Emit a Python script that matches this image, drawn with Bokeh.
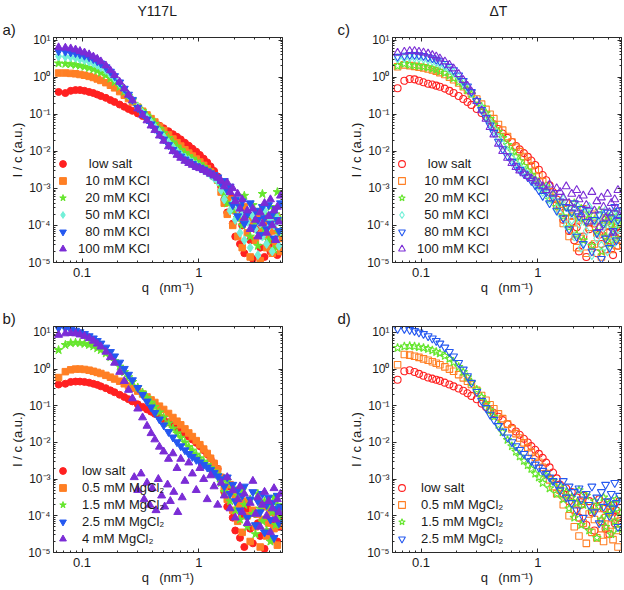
import numpy as np
from bokeh.plotting import figure
from bokeh.models import (Range1d, LogAxis, FixedTicker, CustomJSTickFormatter,
                          Legend, LegendItem, Title, ColumnDataSource)
from bokeh.layouts import gridplot
from bokeh.embed import file_html
from bokeh.resources import INLINE

FONT = "Liberation Sans"

# ---------------- data: q grid (nm^-1) and log10(I/c) ----------------
q = [0.063, 0.072, 0.08, 0.088, 0.096, 0.105, 0.115, 0.125, 0.135, 0.145, 0.16, 0.175, 0.19, 0.21, 0.23, 0.25, 0.27, 0.30,
     0.33, 0.36, 0.39, 0.42, 0.46, 0.50, 0.55, 0.60, 0.65, 0.70, 0.76, 0.82, 0.88, 0.95, 1.02, 1.10, 1.18, 1.26, 1.35, 1.45,
     1.55, 1.65, 1.75, 1.85, 1.95, 2.05, 2.15, 2.25, 2.35, 2.45, 2.6, 2.75, 2.9, 3.05, 3.2, 3.35, 3.5, 3.65, 3.8, 3.95,
     4.1, 4.25, 4.4, 4.55, 4.7, 4.85, 5.0]

# a) Y117L, KCl series
a_low_salt = [-0.40, -0.43, -0.37, -0.35, -0.35, -0.37, -0.40, -0.43, -0.47, -0.51, -0.56, -0.62, -0.67, -0.74, -0.80, -0.86, -0.91, -0.98,
              -1.05, -1.11, -1.17, -1.23, -1.31, -1.38, -1.46, -1.54, -1.61, -1.68, -1.77, -1.85, -1.93, -2.01, -2.10, -2.20, -2.30, -2.41, -2.53, -2.68,
              -2.95, -3.30, -3.65, -3.20, -3.95, -4.30, -3.60, -4.50, -4.00, -4.75, -3.80, -4.40, -4.90, -4.10, -3.70, -4.60, -4.25, -4.85, -3.90, -4.45, -4.70, -4.05, -4.55, -3.85, -4.80, -4.20, -4.60]
a_kcl_10 = [0.11, 0.11, 0.10, 0.09, 0.07, 0.05, 0.02, -0.01, -0.05, -0.09, -0.15, -0.22, -0.29, -0.39, -0.49, -0.58, -0.67, -0.81,
            -0.92, -1.02, -1.12, -1.21, -1.33, -1.44, -1.56, -1.67, -1.77, -1.86, -1.96, -2.05, -2.13, -2.21, -2.29, -2.38, -2.47, -2.56, -2.66, -2.78,
            -3.10, -3.40, -3.70, -3.30, -4.00, -3.60, -4.30, -3.80, -4.60, -3.50, -4.20, -4.85, -3.90, -4.40, -3.70, -4.95, -4.10, -3.85, -4.60, -4.25, -3.95, -4.75, -4.15, -4.50, -3.80, -4.35, -4.70]
a_kcl_20 = [0.37, 0.36, 0.35, 0.33, 0.31, 0.28, 0.25, 0.21, 0.17, 0.12, 0.05, -0.04, -0.13, -0.26, -0.39, -0.51, -0.62, -0.79,
            -0.92, -1.04, -1.15, -1.26, -1.39, -1.51, -1.64, -1.76, -1.87, -1.96, -2.05, -2.13, -2.20, -2.28, -2.35, -2.42, -2.50, -2.58, -2.67, -2.77,
            -2.95, -3.15, -3.40, -3.05, -3.60, -3.30, -3.80, -3.50, -4.00, -3.20, -3.70, -4.30, -3.45, -3.90, -4.55, -3.60, -3.15, -4.10, -3.75, -4.40, -3.50, -3.95, -4.65, -3.70, -3.10, -4.20, -3.85]
a_kcl_50 = [0.56, 0.55, 0.54, 0.52, 0.49, 0.46, 0.42, 0.38, 0.33, 0.27, 0.19, 0.08, -0.03, -0.18, -0.33, -0.48, -0.61, -0.81,
            -0.96, -1.10, -1.22, -1.34, -1.48, -1.61, -1.76, -1.89, -2.00, -2.09, -2.17, -2.24, -2.30, -2.37, -2.43, -2.50, -2.57, -2.64, -2.72, -2.81,
            -3.05, -3.30, -3.10, -3.60, -3.40, -3.85, -3.55, -4.20, -3.70, -4.40, -3.90, -4.60, -3.75, -4.10, -4.80, -3.95, -4.30, -3.60, -4.50, -4.05, -3.85, -4.70, -4.00, -4.35, -3.80, -4.55, -4.15]
a_kcl_80 = [0.70, 0.69, 0.67, 0.65, 0.62, 0.58, 0.54, 0.49, 0.43, 0.37, 0.27, 0.15, 0.03, -0.14, -0.31, -0.47, -0.61, -0.83,
            -0.99, -1.14, -1.27, -1.39, -1.54, -1.68, -1.83, -1.96, -2.06, -2.14, -2.22, -2.28, -2.34, -2.40, -2.44, -2.49, -2.54, -2.59, -2.64, -2.70,
            -2.85, -2.80, -3.05, -2.95, -3.45, -3.30, -3.75, -3.50, -3.35, -3.95, -3.70, -3.40, -4.05, -3.60, -3.85, -4.25, -3.50, -3.80, -4.10, -3.45, -3.95, -3.70, -4.35, -3.55, -3.85, -4.15, -3.40]
a_kcl_100 = [0.80, 0.79, 0.77, 0.74, 0.70, 0.66, 0.61, 0.55, 0.49, 0.42, 0.31, 0.18, 0.05, -0.13, -0.31, -0.48, -0.63, -0.85,
             -1.02, -1.17, -1.31, -1.43, -1.58, -1.72, -1.87, -2.00, -2.10, -2.18, -2.26, -2.32, -2.37, -2.43, -2.46, -2.51, -2.56, -2.61, -2.66, -2.72,
             -2.80, -2.95, -2.85, -3.10, -3.00, -3.35, -3.15, -3.55, -3.30, -3.80, -3.60, -4.10, -3.55, -3.85, -4.30, -3.65, -3.95, -3.40, -4.20, -3.75, -3.30, -4.00, -3.60, -4.40, -3.50, -3.90, -3.20]

# b) Y117L, MgCl2 series
b_low_salt = [-0.42, -0.40, -0.35, -0.34, -0.34, -0.35, -0.37, -0.40, -0.43, -0.47, -0.52, -0.58, -0.63, -0.70, -0.76, -0.82, -0.88, -0.96,
              -1.03, -1.10, -1.16, -1.22, -1.30, -1.37, -1.45, -1.53, -1.60, -1.67, -1.76, -1.84, -1.92, -2.01, -2.10, -2.21, -2.32, -2.44, -2.57, -2.72,
              -2.95, -3.35, -3.75, -3.20, -4.05, -4.40, -3.65, -4.60, -4.00, -4.85, -3.80, -4.35, -4.75, -3.95, -4.20, -4.55, -3.70, -4.90, -4.10, -4.45, -3.85, -4.65, -4.25, -3.90, -4.70, -4.30, -4.05]
b_mg_05 = [-0.23, -0.07, -0.02, 0.00, 0.00, -0.01, -0.03, -0.06, -0.09, -0.12, -0.17, -0.22, -0.27, -0.33, -0.40, -0.46, -0.52, -0.60,
           -0.68, -0.76, -0.84, -0.91, -1.01, -1.10, -1.21, -1.32, -1.42, -1.52, -1.63, -1.74, -1.84, -1.95, -2.06, -2.18, -2.30, -2.43, -2.57, -2.73,
           -2.95, -3.25, -3.55, -3.15, -3.85, -3.45, -4.15, -3.70, -4.45, -3.60, -4.00, -4.70, -3.85, -4.30, -3.95, -4.85, -4.10, -3.75, -4.55, -4.20, -3.90, -4.65, -4.35, -4.05, -4.80, -4.25, -3.95]
b_mg_15 = [0.52, 0.66, 0.71, 0.72, 0.71, 0.69, 0.66, 0.62, 0.57, 0.52, 0.43, 0.33, 0.22, 0.07, -0.08, -0.22, -0.35, -0.50,
           -0.64, -0.78, -0.91, -1.03, -1.18, -1.32, -1.48, -1.62, -1.75, -1.87, -2.00, -2.12, -2.22, -2.33, -2.43, -2.52, -2.61, -2.70, -2.79, -2.88,
           -3.10, -3.35, -3.05, -3.60, -3.25, -3.85, -3.45, -4.10, -3.30, -3.70, -4.30, -3.55, -3.95, -4.50, -3.40, -3.80, -4.15, -3.60, -4.40, -3.75, -4.70, -3.90, -3.50, -4.25, -3.70, -4.05, -3.85]
b_mg_25 = [1.12, 1.11, 1.08, 1.05, 1.01, 0.96, 0.90, 0.84, 0.77, 0.70, 0.59, 0.47, 0.35, 0.18, 0.01, -0.15, -0.30, -0.51,
           -0.70, -0.88, -1.04, -1.19, -1.37, -1.53, -1.71, -1.86, -1.99, -2.10, -2.21, -2.31, -2.39, -2.47, -2.54, -2.61, -2.68, -2.75, -2.83, -2.92,
           -3.00, -3.20, -2.95, -3.40, -3.15, -3.60, -3.30, -3.85, -3.45, -3.20, -4.05, -3.55, -3.35, -4.25, -3.60, -3.90, -3.40, -4.45, -3.70, -3.50, -4.10, -3.65, -4.60, -3.80, -3.45, -4.20, -3.75]
b_mg_4 = [0.93, 0.97, 0.98, 0.97, 0.94, 0.90, 0.84, 0.77, 0.69, 0.61, 0.47, 0.32, 0.17, -0.08, -0.33, -0.57, -0.80, -1.08,
          -1.32, -1.55, -1.75, -1.92, -2.12, -2.25, -2.45, -2.30, -2.70, -2.45, -3.05, -2.55, -2.85, -3.30, -2.70, -3.00, -3.55, -2.90, -3.20, -3.70,
          -3.10, -3.45, -2.95, -3.80, -3.30, -4.05, -3.55, -3.20, -3.90, -3.40, -4.20, -3.65, -3.05, -3.95, -3.50, -4.30, -3.70, -3.35, -4.00, -3.60, -4.45, -3.80, -3.25, -4.10, -3.55, -3.90, -3.40]
# additional scattered 4 mM points at intermediate q
b_mg_4_extra_q = [0.28, 0.30, 0.32, 0.34, 0.36, 0.38, 0.40, 0.43, 0.45, 0.48, 0.51, 0.54, 0.57, 0.61, 0.66, 0.72]
b_mg_4_extra = [-2.95, -3.30, -2.85, -3.55, -3.10, -3.70, -3.25, -3.85, -3.00, -3.45, -3.75, -3.15, -3.60, -3.35, -3.90, -3.50]

# c) deltaT, KCl series
c_low_salt = [-0.30, -0.10, -0.05, -0.06, -0.10, -0.14, -0.18, -0.20, -0.23, -0.26, -0.31, -0.37, -0.43, -0.51, -0.59, -0.67, -0.75, -0.86,
              -0.97, -1.07, -1.17, -1.27, -1.40, -1.52, -1.64, -1.75, -1.86, -1.95, -2.05, -2.15, -2.25, -2.37, -2.50, -2.64, -2.78, -2.92, -3.10, -3.30,
              -3.50, -3.85, -3.65, -4.15, -3.90, -4.40, -4.05, -4.70, -3.80, -4.30, -4.85, -4.10, -4.55, -3.95, -4.75, -4.25, -4.50, -3.85, -4.65, -4.20, -4.40, -3.95, -4.80, -4.30, -4.05, -4.55, -4.20]
c_kcl_10 = [0.28, 0.33, 0.31, 0.29, 0.27, 0.25, 0.22, 0.19, 0.16, 0.12, 0.07, 0.00, -0.07, -0.16, -0.26, -0.36, -0.45, -0.59,
            -0.73, -0.87, -1.00, -1.12, -1.28, -1.43, -1.60, -1.75, -1.89, -2.01, -2.14, -2.27, -2.39, -2.52, -2.66, -2.82, -2.95, -3.10, -3.25, -3.45,
            -3.60, -3.95, -3.40, -4.30, -3.75, -4.10, -4.60, -3.85, -4.35, -3.55, -4.75, -4.05, -3.70, -4.50, -4.20, -3.90, -4.85, -4.15, -3.80, -4.45, -4.00, -4.65, -3.85, -4.25, -4.55, -3.95, -4.40]
c_kcl_20 = [0.30, 0.36, 0.33, 0.31, 0.30, 0.28, 0.26, 0.23, 0.20, 0.16, 0.11, 0.04, -0.03, -0.13, -0.24, -0.35, -0.46, -0.63,
            -0.80, -0.97, -1.13, -1.28, -1.47, -1.64, -1.83, -2.00, -2.14, -2.27, -2.40, -2.52, -2.63, -2.76, -2.90, -3.05, -2.95, -3.30, -3.15, -3.50,
            -3.35, -3.75, -3.50, -4.05, -3.65, -3.40, -4.25, -3.80, -3.55, -4.40, -3.90, -3.70, -4.55, -3.85, -4.15, -3.60, -4.70, -3.95, -4.30, -3.75, -4.50, -3.90, -4.10, -3.65, -4.35, -3.80, -4.00]
c_kcl_50 = [0.50, 0.52, 0.53, 0.53, 0.52, 0.50, 0.47, 0.44, 0.40, 0.36, 0.29, 0.21, 0.12, -0.01, -0.15, -0.29, -0.43, -0.64,
            -0.85, -1.05, -1.24, -1.42, -1.64, -1.83, -2.02, -2.18, -2.31, -2.42, -2.53, -2.63, -2.73, -2.84, -2.95, -3.10, -2.98, -3.30, -3.15, -3.55,
            -3.70, -3.30, -4.00, -3.55, -3.85, -4.30, -3.45, -3.95, -4.60, -3.65, -4.15, -3.50, -4.80, -3.90, -4.35, -3.75, -4.55, -4.05, -3.60, -4.70, -3.95, -4.25, -3.70, -4.45, -3.85, -4.10, -3.65]
c_kcl_80 = [0.55, 0.58, 0.60, 0.60, 0.59, 0.57, 0.54, 0.51, 0.47, 0.43, 0.36, 0.28, 0.19, 0.05, -0.10, -0.25, -0.40, -0.64,
            -0.88, -1.10, -1.30, -1.50, -1.74, -1.94, -2.13, -2.28, -2.40, -2.50, -2.60, -2.70, -2.80, -2.92, -3.05, -3.20, -3.10, -3.40, -3.25, -3.60,
            -3.35, -3.80, -3.50, -4.10, -3.65, -3.40, -4.30, -3.75, -3.55, -4.50, -3.90, -3.60, -4.70, -3.85, -4.20, -3.70, -4.90, -3.95, -4.35, -3.65, -4.60, -3.80, -4.15, -3.50, -4.40, -3.85, -3.60]
c_kcl_100 = [0.65, 0.68, 0.70, 0.70, 0.68, 0.66, 0.63, 0.59, 0.55, 0.50, 0.42, 0.33, 0.23, 0.08, -0.08, -0.24, -0.39, -0.65,
             -0.90, -1.13, -1.35, -1.55, -1.80, -2.00, -2.18, -2.32, -2.43, -2.52, -2.60, -2.67, -2.73, -2.80, -2.85, -2.95, -3.05, -2.90, -3.15, -3.00,
             -3.10, -3.25, -2.95, -3.40, -3.15, -3.55, -3.05, -3.30, -3.70, -3.20, -3.45, -3.90, -3.10, -3.60, -3.35, -4.05, -3.25, -3.50, -3.80, -3.15, -3.65, -3.40, -4.20, -3.30, -3.55, -3.05, -3.75]

# d) deltaT, MgCl2 series
d_low_salt = [-0.29, -0.06, -0.03, -0.08, -0.13, -0.18, -0.23, -0.26, -0.29, -0.32, -0.37, -0.42, -0.47, -0.53, -0.59, -0.66, -0.73, -0.82,
              -0.94, -1.03, -1.12, -1.20, -1.30, -1.39, -1.50, -1.60, -1.70, -1.79, -1.90, -2.00, -2.10, -2.20, -2.31, -2.42, -2.55, -2.68, -2.82, -2.98,
              -3.15, -3.40, -3.25, -3.60, -3.35, -3.85, -3.50, -4.05, -3.70, -3.45, -4.25, -3.60, -3.90, -4.40, -3.75, -3.55, -4.15, -3.80, -4.35, -3.65, -4.50, -3.90, -3.70, -4.20, -3.85, -4.05, -3.60]
d_mg_05 = [0.12, 0.40, 0.38, 0.35, 0.32, 0.28, 0.24, 0.20, 0.16, 0.12, 0.06, 0.00, -0.06, -0.15, -0.24, -0.33, -0.42, -0.58,
           -0.72, -0.85, -0.97, -1.08, -1.22, -1.35, -1.50, -1.63, -1.76, -1.88, -2.01, -2.14, -2.27, -2.40, -2.54, -2.68, -2.85, -3.02, -3.20, -3.40,
           -3.30, -3.70, -3.50, -4.00, -3.65, -4.30, -3.85, -4.55, -3.60, -4.20, -4.75, -3.95, -4.45, -4.10, -4.60, -3.80, -4.35, -4.70, -4.05, -4.50, -3.90, -4.25, -4.65, -4.00, -4.40, -4.85, -4.15]
d_mg_15 = [0.58, 0.62, 0.63, 0.62, 0.60, 0.58, 0.55, 0.51, 0.47, 0.43, 0.36, 0.28, 0.19, 0.06, -0.08, -0.22, -0.36, -0.56,
           -0.76, -0.95, -1.13, -1.30, -1.52, -1.72, -1.93, -2.10, -2.25, -2.38, -2.50, -2.62, -2.72, -2.85, -2.95, -3.10, -2.90, -3.25, -3.05, -3.40,
           -3.20, -3.55, -3.35, -3.80, -3.50, -4.05, -3.65, -3.30, -4.25, -3.70, -3.45, -4.40, -3.85, -3.60, -4.60, -3.75, -4.10, -3.50, -4.30, -3.95, -3.65, -4.50, -3.80, -4.15, -3.55, -4.35, -3.90]
d_mg_25 = [1.10, 1.10, 1.07, 1.04, 1.00, 0.96, 0.90, 0.84, 0.77, 0.70, 0.59, 0.47, 0.35, 0.17, -0.01, -0.19, -0.37, -0.62,
           -0.86, -1.06, -1.24, -1.38, -1.55, -1.70, -1.86, -1.99, -2.10, -2.20, -2.31, -2.41, -2.50, -2.60, -2.68, -2.77, -2.85, -2.95, -3.05, -3.15,
           -3.30, -3.05, -3.50, -3.20, -3.65, -3.35, -3.85, -3.25, -3.55, -4.05, -3.40, -3.70, -3.20, -3.90, -3.50, -4.20, -3.35, -3.75, -3.15, -3.60, -4.00, -3.40, -3.80, -3.10, -3.65, -4.30, -3.45]

kcl_labels = ["\u2007\u2008low salt", "\u200710 mM KCl", "\u200720 mM KCl", "\u200750 mM KCl", "\u200780 mM KCl", "100 mM KCl"]
mg_labels = ["low salt", "0.5 mM MgCl\u2082", "1.5 mM MgCl\u2082", "2.5 mM MgCl\u2082", "4 mM MgCl\u2082"]

# axis ticks
x_major = [0.1, 1]
x_minor = [0.06, 0.07, 0.08, 0.09, 0.2, 0.3, 0.4, 0.5, 0.6, 0.7, 0.8, 0.9, 2, 3, 4, 5]
y_major = [1e-5, 1e-4, 1e-3, 1e-2, 1e-1, 1, 10]
y_minor = [m * 10.0 ** e for e in range(-5, 2) for m in range(2, 10) if m * 10.0 ** e < 15]

# ---------------- styles ----------------
RED, ORANGE, GREEN, CYAN, BLUE, PURPLE = "#ff2020", "#ff7f24", "#66e62e", "#72f0d8", "#2458f0", "#7b2cd6"
STYLE = {
    "low": (RED, "circle", 7),
    "s10": (ORANGE, "square", 6.5),
    "s20": (GREEN, "star", 9),
    "s50": (CYAN, "diamond", 9),
    "s80": (BLUE, "inverted_triangle", 8),
    "s100": (PURPLE, "triangle", 8),
}
INK = "#1a1a1a"

Y_FMT = """
const e = Math.round(Math.log10(tick));
const m = {"-": "\u207b", "0": "\u2070", "1": "\u00b9", "2": "\u00b2", "3": "\u00b3", "4": "\u2074", "5": "\u2075"};
return "10" + String(e).split("").map((c) => m[c]).join("");
"""
X_FMT = "return tick < 1 ? tick.toString() : tick.toFixed(0);"
BLANK = "return '';"

for name, arr in [("a_low_salt", a_low_salt), ("a_kcl_10", a_kcl_10), ("a_kcl_20", a_kcl_20), ("a_kcl_50", a_kcl_50),
                  ("a_kcl_80", a_kcl_80), ("a_kcl_100", a_kcl_100), ("b_low_salt", b_low_salt), ("b_mg_05", b_mg_05),
                  ("b_mg_15", b_mg_15), ("b_mg_25", b_mg_25), ("b_mg_4", b_mg_4), ("c_low_salt", c_low_salt),
                  ("c_kcl_10", c_kcl_10), ("c_kcl_20", c_kcl_20), ("c_kcl_50", c_kcl_50), ("c_kcl_80", c_kcl_80),
                  ("c_kcl_100", c_kcl_100), ("d_low_salt", d_low_salt), ("d_mg_05", d_mg_05), ("d_mg_15", d_mg_15),
                  ("d_mg_25", d_mg_25)]:
    if len(arr) != len(q):
        raise SystemExit(f"{name}: {len(arr)} values, expected {len(q)}")


def style_axis(ax, ticks, minor, code, show):
    ax.ticker = FixedTicker(ticks=ticks, minor_ticks=minor)
    ax.formatter = CustomJSTickFormatter(code=code)
    ax.major_tick_in = 4
    ax.major_tick_out = 0
    ax.minor_tick_in = 2
    ax.minor_tick_out = 0
    ax.axis_line_color = "#2a2a2a"
    ax.major_tick_line_color = "#2a2a2a"
    ax.minor_tick_line_color = "#2a2a2a"
    if show:
        ax.major_label_text_font = FONT
        ax.major_label_text_color = INK
        ax.axis_label_text_font = FONT
        ax.axis_label_text_font_size = "13px"
        ax.axis_label_text_font_style = "normal"
        ax.axis_label_text_color = INK
    else:
        ax.major_label_text_font_size = "0px"
        ax.major_label_standoff = 0


def panel(series, labels, keys, filled, letter, letter_dx, title, title_dx,
          width, height, borders, ymax, extra=None):
    left, right, top, bottom = borders
    p = figure(width=width, height=height, x_axis_type="log", y_axis_type="log",
               x_range=Range1d(0.057, 5.2), y_range=Range1d(1e-5, ymax),
               output_backend="svg", toolbar_location=None,
               min_border_left=left, min_border_right=right, min_border_top=top, min_border_bottom=bottom)
    p.grid.visible = False
    p.outline_line_color = "#2a2a2a"
    p.outline_line_width = 1
    p.background_fill_color = "white"
    p.border_fill_color = "white"

    xa = p.xaxis[0]
    style_axis(xa, x_major, x_minor, X_FMT, True)
    xa.major_label_text_font_size = "13px"
    xa.major_label_standoff = 5
    xa.axis_label = "q \u2002(nm\u207b\u00b9)"
    xa.axis_label_standoff = 0
    ya = p.yaxis[0]
    style_axis(ya, y_major, y_minor, Y_FMT, True)
    ya.major_label_text_font_size = "12px"
    ya.major_label_standoff = 3
    ya.axis_label = "I / c (a.u.)"
    ya.axis_label_standoff = 0

    top_ax = LogAxis()
    style_axis(top_ax, x_major, x_minor, BLANK, False)
    p.add_layout(top_ax, "above")
    right_ax = LogAxis()
    style_axis(right_ax, y_major, y_minor, BLANK, False)
    p.add_layout(right_ax, "right")

    # panel letter (closest to frame) and panel title (outermost)
    p.add_layout(Title(text=letter, align="left", offset=letter_dx, standoff=0, vertical_align="bottom",
                       text_font=FONT, text_font_size="15px", text_font_style="normal", text_color=INK), "above")
    if title:
        p.add_layout(Title(text=title, align="left", offset=title_dx, standoff=0, vertical_align="bottom",
                           text_font=FONT, text_font_size="14px", text_font_style="normal", text_color=INK), "above")

    items = []
    for vals, lab, key in zip(series, labels, keys):
        col, mk, sz = STYLE[key]
        src = ColumnDataSource(dict(q=q, I=list(10.0 ** np.array(vals))))
        if filled:
            r = p.scatter("q", "I", source=src, marker=mk, size=sz, fill_color=col, line_color=col, line_width=1)
        else:
            r = p.scatter("q", "I", source=src, marker=mk, size=sz, fill_color=None, line_color=col, line_width=1.1)
        if extra is not None and key == "s100":
            eq, ev = extra
            src2 = ColumnDataSource(dict(q=eq, I=list(10.0 ** np.array(ev))))
            p.scatter("q", "I", source=src2, marker=mk, size=sz, fill_color=col, line_color=col, line_width=1)
        items.append(LegendItem(label=lab, renderers=[r]))

    leg = Legend(items=items, location=(0, 4), orientation="vertical")
    leg.background_fill_alpha = 0
    leg.border_line_alpha = 0
    leg.glyph_width = 17
    leg.glyph_height = 17
    leg.label_height = 17
    leg.spacing = 0
    leg.padding = 1
    leg.margin = 0
    leg.label_standoff = 7 if len(items) == 6 else 11
    leg.label_text_font = FONT
    leg.label_text_font_size = "13px"
    leg.label_text_color = INK
    p.add_layout(leg)
    return p


ROW1_H, ROW2_H = 297, 292
pa = panel([a_low_salt, a_kcl_10, a_kcl_20, a_kcl_50, a_kcl_80, a_kcl_100], kcl_labels,
           ["low", "s10", "s20", "s50", "s80", "s100"], True, "a)", -51, "Y117L", 84,
           310, ROW1_H, (53, 28, 37, 35), 11.7)
pc = panel([c_low_salt, c_kcl_10, c_kcl_20, c_kcl_50, c_kcl_80, c_kcl_100], kcl_labels,
           ["low", "s10", "s20", "s50", "s80", "s100"], False, "c)", -55, "\u0394T", 97,
           313, ROW1_H, (82, 2, 37, 35), 11.7)
pb = panel([b_low_salt, b_mg_05, b_mg_15, b_mg_25, b_mg_4], mg_labels,
           ["low", "s10", "s20", "s80", "s100"], True, "b)", -51, None, 0,
           310, ROW2_H, (53, 28, 29, 37), 14.5, extra=(b_mg_4_extra_q, b_mg_4_extra))
pd_ = panel([d_low_salt, d_mg_05, d_mg_15, d_mg_25], mg_labels[:4],
            ["low", "s10", "s20", "s80"], False, "d)", -55, None, 0,
            313, ROW2_H, (82, 2, 29, 37), 14.5)

grid = gridplot([[pa, pc], [pb, pd_]], toolbar_location=None)

with open("out.html", "w", encoding="utf-8") as f:
    f.write(file_html(grid, INLINE))
